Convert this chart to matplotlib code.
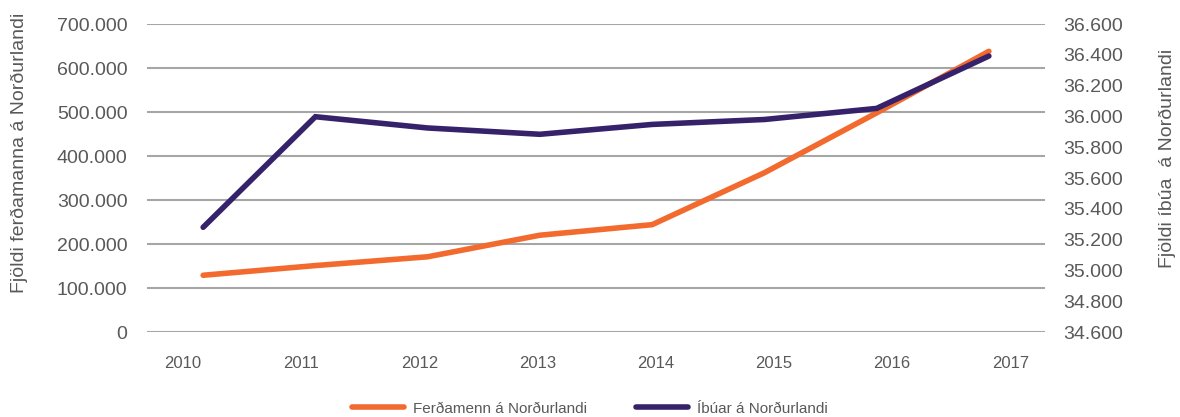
import numpy as np
import matplotlib
matplotlib.use("Agg")
import matplotlib.pyplot as plt
from matplotlib.lines import Line2D
from matplotlib.ticker import FuncFormatter

plt.rcParams['font.family'] = ['Liberation Sans Narrow', 'Liberation Sans', 'DejaVu Sans']

# Data
years = ["2010", "2011", "2012", "2013", "2014", "2015", "2016", "2017"]
ferdamenn = [129000, 151000, 171000, 220000, 244000, 362000, 498000, 638000]
ibuar = [35280, 35998, 35925, 35884, 35948, 35980, 36052, 36392]

ORANGE = "#F26A2E"
PURPLE = "#35226B"
TEXT = "#595959"
GRID = "#A6A6A6"


def dotted(x, pos):
    return f"{int(round(x)):,}".replace(",", ".")


fig = plt.figure(figsize=(11.8, 4.17), dpi=100)
ax = fig.add_axes([0.1246, 0.2038, 0.761, 0.7386])
ax2 = ax.twinx()

x = np.arange(len(years))
ax.plot(x, ferdamenn, color=ORANGE, lw=4, solid_capstyle="round", solid_joinstyle="miter", zorder=3)
ax2.plot(x, ibuar, color=PURPLE, lw=4, solid_capstyle="round", solid_joinstyle="miter", zorder=3)

ax.set_xlim(-0.5, 7.5)
ax.set_ylim(0, 700000)
ax.set_yticks(np.arange(0, 700001, 100000))
ax.yaxis.set_major_formatter(FuncFormatter(dotted))
ax2.set_ylim(34600, 36600)
ax2.set_yticks(np.arange(34600, 36601, 200))
ax2.yaxis.set_major_formatter(FuncFormatter(dotted))

# category labels sit a little off the data points in the original
ax.set_xticks(np.linspace(-0.18, 7.19, len(years)))
ax.set_xticklabels(years)

ax.grid(axis="y", color=GRID, lw=1.5)
ax.set_axisbelow(True)
for a in (ax, ax2):
    for s in a.spines.values():
        s.set_visible(False)
ax.tick_params(axis="y", length=0, pad=14, labelsize=14, labelcolor=TEXT)
ax.tick_params(axis="x", length=0, pad=17, labelsize=12, labelcolor=TEXT)
ax2.tick_params(axis="y", length=0, pad=13, labelsize=14, labelcolor=TEXT)

fig.text(0.016, 0.633, "Fjöldi ferðamanna á Norðurlandi", rotation=90, ha="center", va="center",
         fontsize=14, color=TEXT)
fig.text(0.989, 0.62, "Fjöldi íbúa  á Norðurlandi", rotation=90, ha="center", va="center",
         fontsize=14, color=TEXT)

handles = [Line2D([0], [0], color=ORANGE, lw=4, solid_capstyle="round"),
           Line2D([0], [0], color=PURPLE, lw=4, solid_capstyle="round")]
leg = fig.legend(handles, ["Ferðamenn á Norðurlandi", "Íbúar á Norðurlandi"],
                 loc="center", bbox_to_anchor=(0.5, 0.02), ncol=2, frameon=False,
                 fontsize=11, handlelength=3.4, columnspacing=3.2, handletextpad=0.6)
for t in leg.get_texts():
    t.set_color(TEXT)

plt.savefig("out.png", dpi=100)
